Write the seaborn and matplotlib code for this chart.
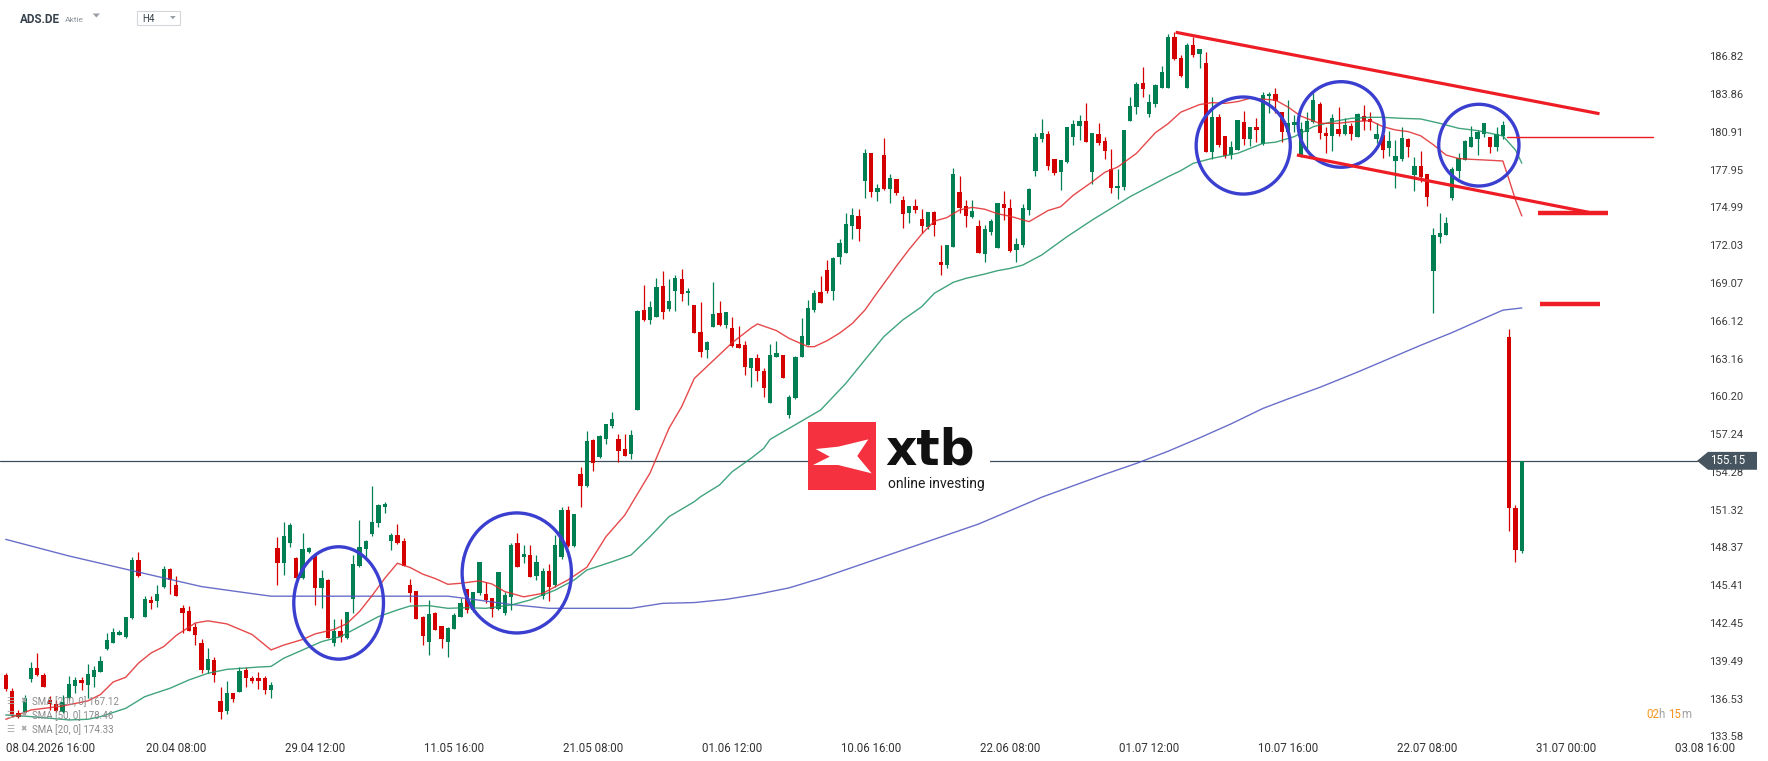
import numpy as np
import pandas as pd
import seaborn as sns
import matplotlib.pyplot as plt
from matplotlib import transforms
from matplotlib.patches import Ellipse, Polygon, Rectangle

W, H = 1768, 761

# candles (H4), index 0 = 08.04.2026 16:00
x = np.arange(-4, 237)
opens = [138.38, 137.15, 135.43, 135.38, 138.09, 138.90, 138.38, 136.42, 136.11, 135.51,
         136.55, 137.54, 137.99, 137.62, 138.25, 138.64, 140.39, 140.91, 141.54, 141.33,
         142.82, 147.38, 142.95, 144.25, 144.20, 145.30, 146.68, 145.43, 143.65, 143.39,
         142.16, 140.89, 138.77, 139.55, 136.34, 135.59, 136.94, 137.07, 138.77, 138.14,
         138.12, 138.16, 137.20, 148.36, 147.13, 148.74, 147.57, 146.00, 148.04, 147.78,
         145.17, 145.82, 140.86, 141.86, 141.25, 144.33, 146.91, 148.25, 149.42, 150.26,
         151.56, 148.87, 149.34, 148.87, 145.43, 144.96, 142.95, 140.99, 143.21, 142.22,
         140.99, 142.00, 142.95, 145.09, 143.47, 144.78, 144.73, 144.39, 143.52, 143.21,
         144.51, 148.69, 147.64, 147.78, 146.13, 144.57, 146.52, 145.43, 147.60, 151.30,
         148.48, 154.09, 153.18, 156.78, 155.42, 156.86, 157.88, 156.86, 156.08, 155.68,
         159.13, 166.96, 166.18, 166.44, 168.84, 167.01, 168.47, 169.39, 168.27, 167.35,
         165.26, 163.83, 165.66, 166.75, 165.79, 165.53, 164.27, 164.22, 162.39, 163.23,
         162.18, 159.70, 163.31, 163.44, 158.74, 160.10, 163.31, 164.22, 166.96, 168.35,
         170.09, 168.48, 171.14, 171.45, 173.54, 174.32, 177.06, 179.28, 176.23, 179.10,
         176.44, 177.19, 175.58, 174.53, 175.11, 174.06, 173.49, 174.61, 170.69, 170.49,
         171.92, 176.23, 175.11, 174.27, 173.54, 171.32, 173.10, 171.79, 175.26, 174.92,
         171.66, 172.05, 174.79, 177.87, 180.35, 180.74, 178.76, 177.79, 178.58, 180.53,
         181.40, 181.76, 177.79, 180.74, 180.19, 177.98, 176.49, 176.57, 181.79, 182.83,
         184.76, 182.28, 183.09, 184.32, 184.32, 188.31, 186.67, 184.32, 187.71, 186.98,
         186.28, 179.36, 182.10, 180.58, 179.10, 179.49, 181.66, 180.35, 181.27, 179.96,
         183.72, 183.88, 182.49, 180.93, 181.45, 179.10, 180.93, 181.71, 183.09, 180.85,
         180.59, 181.11, 180.75, 181.37, 180.54, 182.18, 181.89, 180.35, 180.67, 179.62,
         178.66, 178.76, 180.33, 177.53, 178.24, 177.61, 170.04, 172.71, 172.84, 175.71,
         177.87, 178.71, 179.75, 180.33, 180.75, 180.48, 179.70, 180.59, 164.87, 151.43,
         148.12]
highs = [138.56, 137.33, 135.60, 136.81, 139.42, 140.13, 138.56, 136.74, 136.42, 136.81,
         138.30, 138.25, 138.25, 139.27, 139.08, 139.89, 141.64, 142.03, 141.93, 142.95,
         147.59, 148.04, 144.57, 144.57, 145.43, 146.92, 146.78, 146.13, 143.86, 143.78,
         142.43, 141.17, 140.52, 139.82, 137.41, 137.88, 136.94, 138.98, 138.98, 138.30,
         138.64, 138.30, 137.80, 149.21, 150.36, 150.26, 147.65, 149.47, 148.40, 147.78,
         146.60, 145.87, 142.74, 142.74, 143.29, 147.78, 150.52, 148.95, 153.18, 151.77,
         151.95, 149.52, 150.21, 149.08, 145.87, 144.96, 143.00, 144.25, 143.34, 142.22,
         142.12, 143.21, 144.39, 145.09, 144.91, 147.20, 145.69, 144.39, 146.47, 144.91,
         148.69, 149.47, 148.56, 148.56, 147.78, 146.73, 147.07, 149.34, 151.56, 151.61,
         150.96, 154.64, 157.49, 156.86, 157.15, 158.03, 158.97, 157.25, 157.25, 157.56,
         166.96, 168.92, 167.69, 169.44, 170.02, 169.36, 169.70, 170.17, 168.66, 167.35,
         167.56, 164.56, 169.13, 167.69, 166.80, 166.44, 165.71, 164.53, 163.18, 163.51,
         162.39, 164.30, 164.56, 163.44, 160.30, 163.36, 166.31, 167.74, 168.53, 169.62,
         170.88, 171.14, 172.52, 174.53, 174.92, 174.84, 179.54, 179.28, 176.83, 180.40,
         177.61, 177.19, 175.89, 175.11, 175.63, 174.84, 174.66, 174.71, 172.05, 172.03,
         178.06, 177.45, 175.58, 175.58, 174.01, 173.62, 174.09, 175.32, 176.28, 175.63,
         172.57, 175.26, 176.49, 180.79, 181.92, 180.98, 178.76, 178.71, 181.27, 181.84,
         182.23, 183.20, 180.79, 181.63, 180.53, 179.54, 177.98, 181.06, 183.61, 184.84,
         186.02, 183.87, 184.66, 186.07, 188.57, 188.76, 186.93, 187.89, 188.31, 187.37,
         187.14, 183.61, 182.31, 180.58, 180.22, 181.84, 182.57, 181.27, 181.97, 184.06,
         184.06, 184.32, 182.49, 183.41, 182.23, 181.71, 182.49, 183.93, 183.28, 181.32,
         182.31, 182.83, 181.97, 181.63, 182.36, 183.02, 182.49, 181.58, 180.67, 181.01,
         180.28, 181.27, 180.41, 178.97, 179.44, 177.61, 173.36, 174.58, 174.22, 178.14,
         179.23, 180.28, 181.37, 181.06, 181.63, 180.48, 181.32, 181.76, 165.45, 151.69,
         155.15]
lows = [137.15, 135.12, 135.00, 135.30, 137.81, 138.33, 137.41, 135.64, 135.51, 135.38,
        136.42, 136.94, 137.21, 136.55, 137.41, 138.64, 140.34, 140.86, 141.49, 141.28,
        142.74, 146.08, 142.95, 143.57, 143.73, 145.22, 144.72, 144.57, 141.70, 141.85,
        140.73, 138.56, 138.56, 137.81, 134.91, 135.30, 136.24, 137.07, 137.41, 137.73,
        137.26, 136.90, 136.60, 145.43, 146.21, 148.43, 145.95, 145.87, 147.90, 143.86,
        143.60, 141.25, 140.68, 141.00, 141.20, 143.21, 146.81, 147.65, 149.26, 149.95,
        151.10, 148.17, 148.64, 146.94, 144.12, 142.74, 140.73, 139.95, 141.91, 140.47,
        139.82, 142.00, 142.90, 143.26, 143.34, 144.65, 144.04, 142.90, 143.47, 143.08,
        143.47, 146.86, 147.12, 146.08, 145.82, 144.30, 144.20, 145.30, 147.50, 148.43,
        148.43, 151.56, 153.13, 154.38, 155.35, 156.47, 157.70, 155.08, 155.55, 155.29,
        159.13, 166.10, 165.86, 166.44, 166.26, 166.88, 166.91, 167.69, 167.35, 165.13,
        163.31, 163.18, 165.66, 165.71, 165.53, 164.09, 164.01, 161.87, 160.96, 161.43,
        160.17, 159.70, 163.26, 161.61, 158.48, 159.97, 163.26, 164.22, 166.83, 167.48,
        168.27, 167.74, 170.54, 171.45, 172.49, 172.39, 175.76, 175.84, 175.52, 176.36,
        175.31, 175.97, 173.36, 173.80, 174.58, 172.97, 173.28, 172.76, 169.70, 170.22,
        171.87, 174.58, 173.49, 174.19, 171.40, 170.75, 172.84, 171.79, 174.01, 171.53,
        170.74, 171.92, 174.40, 177.45, 180.14, 177.92, 177.53, 176.36, 178.50, 179.88,
        180.27, 180.14, 176.80, 179.88, 178.76, 176.15, 175.63, 176.36, 181.79, 182.31,
        183.61, 182.10, 182.83, 184.32, 184.32, 186.54, 185.23, 184.32, 186.80, 185.94,
        179.36, 178.76, 179.75, 178.84, 178.76, 179.49, 179.88, 179.80, 180.14, 179.88,
        182.42, 182.42, 180.15, 180.67, 180.93, 178.97, 179.36, 181.58, 180.33, 179.28,
        179.44, 180.59, 180.67, 180.28, 180.49, 181.06, 181.06, 180.02, 178.84, 179.02,
        176.49, 178.66, 178.92, 176.31, 177.01, 175.11, 166.75, 172.24, 172.84, 175.58,
        177.27, 178.71, 179.70, 179.10, 180.54, 179.28, 179.44, 180.33, 149.68, 147.26,
        147.96]
closes = [137.26, 135.25, 135.12, 136.55, 138.90, 138.38, 137.41, 136.11, 135.59, 136.29,
          137.67, 137.99, 137.78, 138.46, 138.77, 139.48, 141.12, 141.75, 141.75, 142.95,
          147.38, 146.13, 144.33, 144.04, 144.72, 146.68, 145.82, 144.57, 143.26, 141.85,
          141.54, 138.77, 139.63, 138.38, 135.51, 136.94, 136.50, 138.69, 138.12, 137.88,
          137.94, 137.20, 137.60, 147.18, 149.26, 150.13, 146.00, 148.22, 148.30, 145.22,
          145.95, 141.25, 141.86, 141.33, 143.29, 147.08, 148.38, 148.87, 150.34, 151.69,
          151.77, 149.34, 148.69, 146.94, 144.78, 142.74, 141.46, 143.13, 141.91, 141.20,
          142.04, 143.08, 143.99, 143.47, 144.91, 147.20, 144.25, 143.52, 146.42, 144.65,
          148.56, 146.86, 147.85, 146.08, 147.25, 146.55, 145.30, 148.56, 151.30, 148.48,
          150.96, 153.18, 156.70, 155.00, 157.10, 158.03, 158.43, 155.95, 155.55, 157.15,
          166.88, 166.18, 167.17, 168.79, 166.83, 167.69, 169.44, 168.19, 168.45, 165.13,
          163.70, 164.43, 166.65, 165.79, 166.80, 164.17, 164.01, 162.52, 163.18, 162.21,
          160.88, 163.44, 163.57, 161.66, 160.18, 163.31, 164.93, 167.09, 168.32, 167.48,
          168.48, 171.06, 172.18, 173.70, 174.40, 173.30, 179.28, 176.23, 176.52, 176.44,
          177.27, 176.10, 174.45, 175.11, 174.79, 173.54, 174.61, 173.62, 170.49, 172.03,
          177.61, 174.97, 174.32, 174.74, 171.40, 173.30, 173.93, 175.32, 174.92, 171.61,
          172.13, 174.92, 176.41, 180.48, 180.79, 178.26, 177.71, 178.71, 181.27, 181.53,
          181.76, 180.14, 180.79, 180.06, 179.44, 176.49, 176.67, 181.06, 182.94, 184.63,
          184.24, 183.27, 184.58, 185.62, 188.37, 186.59, 185.28, 187.71, 186.93, 187.37,
          179.36, 182.10, 179.88, 179.02, 179.75, 181.84, 180.35, 181.27, 181.06, 183.80,
          183.88, 183.35, 180.93, 181.58, 181.71, 181.11, 181.76, 183.41, 180.80, 180.59,
          181.97, 180.75, 181.45, 180.75, 182.31, 181.79, 181.71, 180.75, 179.49, 180.22,
          179.02, 180.41, 179.70, 178.24, 177.40, 175.79, 172.84, 173.02, 173.75, 177.98,
          178.84, 180.22, 180.48, 180.93, 181.58, 179.70, 180.75, 181.45, 151.43, 148.17,
          155.15]

# moving averages
sma20_x = [-4, 0, 5, 9, 11, 13, 15, 17, 19, 21, 23, 26, 28, 31, 35, 38, 40, 43, 45, 48, 50,
           52, 54, 56, 58, 60, 62, 64, 66, 68, 71, 73, 75, 78, 81, 85, 88, 91, 94, 98, 101,
           103, 105, 108, 111, 114, 115, 118, 120, 123, 124, 126, 128, 130, 132, 134, 136,
           137, 139, 141, 143, 145, 147, 149, 151, 153, 155, 158, 161, 163, 165, 168, 170,
           172, 175, 178, 180, 182, 185, 187, 189, 191, 193, 197, 199, 201, 204, 207, 209,
           212, 214, 216, 218, 220, 222, 224, 226, 228, 230, 233, 234, 235, 236]
sma20_y = [134.91, 135.64, 135.95, 136.35, 136.85, 137.83, 138.20, 139.30, 140.10, 140.60,
           141.48, 142.45, 142.62, 142.38, 141.55, 140.34, 140.72, 141.16, 141.60, 141.95,
           142.40, 143.35, 144.60, 145.95, 147.13, 146.80, 146.28, 145.93, 145.48, 145.56,
           145.75, 145.50, 144.91, 144.50, 144.77, 145.82, 146.82, 149.20, 150.90, 154.20,
           157.70, 159.39, 161.60, 163.00, 164.40, 165.55, 165.87, 165.35, 164.74, 164.09,
           164.09, 164.55, 165.15, 165.90, 166.95, 168.35, 169.70, 170.40, 171.70, 172.90,
           173.92, 174.20, 174.80, 175.00, 174.85, 174.50, 174.30, 173.88, 174.75, 175.05,
           175.95, 177.00, 177.75, 178.15, 179.23, 180.85, 181.55, 182.45, 183.05, 183.20,
           183.14, 183.28, 183.54, 183.40, 182.85, 182.15, 181.58, 181.58, 181.70, 181.79,
           181.32, 181.06, 180.93, 180.60, 179.90, 179.10, 178.82, 178.76, 178.71, 178.63,
           177.14, 175.58, 174.33]
sma50_x = [-4, 0, 6, 9, 11, 15, 18, 22, 25, 28, 31, 36, 38, 40, 43, 46, 49, 51, 53, 55, 58,
           60, 63, 66, 69, 72, 76, 79, 83, 86, 88, 92, 95, 98, 101, 105, 106, 109, 111, 114,
           116, 117, 120, 125, 129, 132, 135, 138, 141, 143, 146, 148, 151, 153, 155, 157,
           160, 164, 168, 171, 174, 177, 180, 182, 184, 187, 191, 195, 197, 200, 203, 206,
           209, 212, 214, 217, 220, 223, 226, 229, 233, 235, 236]
sma50_y = [135.25, 135.12, 134.86, 134.91, 135.12, 135.77, 136.68, 137.34, 137.99, 138.51,
           138.82, 139.00, 139.05, 139.69, 140.34, 140.99, 141.38, 141.91, 142.43, 142.95,
           143.47, 143.78, 143.81, 143.60, 143.65, 143.60, 143.86, 144.25, 145.03, 145.82,
           146.60, 147.25, 147.78, 149.21, 150.78, 151.95, 152.34, 153.26, 154.30, 155.35,
           156.13, 156.83, 157.69, 159.13, 161.22, 163.05, 164.87, 166.18, 167.22, 168.27,
           169.13, 169.44, 169.78, 170.04, 170.22, 170.48, 171.27, 172.70, 174.01, 174.92,
           175.84, 176.62, 177.40, 177.87, 178.45, 178.84, 179.23, 180.01, 180.10, 180.54,
           181.32, 181.71, 181.97, 182.05, 182.05, 181.97, 181.92, 181.58, 181.19, 181.01,
           180.59, 179.49, 178.46]
sma200_x = [-4, 6, 16, 27, 35, 38, 50, 66, 70, 76, 82, 95, 100, 105, 110, 115, 120, 125,
            130, 135, 140, 145, 150, 155, 160, 165, 170, 175, 180, 185, 190, 195, 199, 204,
            210, 215, 220, 225, 230, 233, 236]
sma200_y = [149.00, 147.70, 146.55, 145.30, 144.75, 144.55, 144.55, 144.55, 144.30, 143.90,
            143.60, 143.60, 143.99, 144.05, 144.30, 144.70, 145.20, 145.95, 146.80, 147.65,
            148.50, 149.35, 150.20, 151.25, 152.30, 153.20, 154.10, 154.95, 155.90, 156.95,
            158.05, 159.25, 160.00, 160.90, 162.10, 163.15, 164.20, 165.20, 166.30, 166.95,
            167.12]

# drawings on the chart
circ_x = [48.7, 76.9, 191.9, 207.4, 229.2]
circ_y = [144.02, 146.37, 179.84, 181.49, 179.87]
circ_w = [14.2, 17.3, 14.9, 13.6, 12.7]
circ_h = [8.8, 9.4, 7.6, 6.7, 6.4]
trend_upper_x, trend_upper_y = [181.2, 248.3], [188.71, 182.33]
trend_lower_x, trend_lower_y = [200.4, 246.6], [179.10, 174.61]
level_thin = 180.53
level_thin_x = [233.7, 256.8]
levels_thick = [174.55, 167.40]
levels_thick_x = [[238.5, 249.6], [238.9, 248.4]]
last_price = 155.15

ytick_vals = [186.82, 183.86, 180.91, 177.95, 174.99, 172.03, 169.07, 166.12, 163.16, 160.20,
              157.24, 154.28, 151.32, 148.37, 145.41, 142.45, 139.49, 136.53, 133.58]
xtick_pos = [1 + 22 * k for k in range(13)]
xtick_labels = ['08.04.2026 16:00', '20.04 08:00', '29.04 12:00', '11.05 16:00', '21.05 08:00',
                '01.06 12:00', '10.06 16:00', '22.06 08:00', '01.07 12:00', '10.07 16:00',
                '22.07 08:00', '31.07 00:00', '03.08 16:00']
sma_legend = ['SMA [200, 0] 167.12', 'SMA [50, 0] 178.46', 'SMA [20, 0] 174.33']

GREEN, RED = '#008052', '#d40000'

sns.set_theme(style='white')
plt.rcParams['font.family'] = ['Roboto', 'DejaVu Sans']

fig = plt.figure(figsize=(W / 100, H / 100), dpi=100)
ax = fig.add_axes([0, 1 - 740 / H, 1, 740 / H])
for s in ax.spines.values():
    s.set_visible(False)

o, h, l, c = map(np.array, (opens, highs, lows, closes))
colors = np.where(c >= o, GREEN, RED)
ax.vlines(x, l, h, colors=colors, lw=0.9, zorder=2)
ax.bar(x, np.maximum(np.abs(c - o), 0.08), bottom=np.minimum(o, c), width=0.68,
       color=colors, linewidth=0, zorder=2)

for xs, ys, col in [(sma200_x, sma200_y, '#4f55c0'), (sma50_x, sma50_y, '#1f9466'),
                    (sma20_x, sma20_y, '#e2292b')]:
    sns.lineplot(x=xs, y=ys, ax=ax, color=col, lw=1.0, alpha=0.85, zorder=3,
                 legend=False, estimator=None)

for cx, cy, cw, ch in zip(circ_x, circ_y, circ_w, circ_h):
    ax.add_patch(Ellipse((cx, cy), cw, ch, fill=False, ec='#3b3fd0', lw=2.4, zorder=5))

ax.plot(trend_upper_x, trend_upper_y, color='#ee1d25', lw=2.3, zorder=5, solid_capstyle='butt')
ax.plot(trend_lower_x, trend_lower_y, color='#ee1d25', lw=2.3, zorder=5, solid_capstyle='butt')
ax.plot(level_thin_x, [level_thin] * 2, color='#ee1d25', lw=1.0, zorder=5)
for lv, lx in zip(levels_thick, levels_thick_x):
    ax.plot(lx, [lv, lv], color='#ee1d25', lw=3.2, zorder=5, solid_capstyle='butt')

# last price line + tag
ax.axhline(last_price, xmax=1697 / W, color='#3e4d5a', lw=0.9, zorder=1)
tr = transforms.blended_transform_factory(ax.transAxes, ax.transData)
hh = 0.7
ax.add_patch(Polygon([(1697 / W, last_price), (1708 / W, last_price + hh), (1757 / W, last_price + hh),
                      (1757 / W, last_price - hh), (1708 / W, last_price - hh)],
                     closed=True, transform=tr, fc='#46555f', ec='none', zorder=6, clip_on=False))
ax.text(1710 / W, last_price, '155.15', transform=tr, color='white', fontsize=8.3,
        va='center', ha='left', zorder=7)

ax.set_xlim(-31 / 6.317, (W - 31) / 6.317)
ax.set_ylim(186.82 - (740 - 56.4) / 12.77, 186.82 + 56.4 / 12.77)
ax.set_xlabel('')
ax.set_ylabel('')

ax.yaxis.tick_right()
ax.set_yticks(ytick_vals, [f'{v:.2f}' for v in ytick_vals])
ax.tick_params(axis='y', length=0, pad=-42.5, labelsize=8, labelcolor='#3d3d3d')
ax.set_xticks(xtick_pos, xtick_labels)
ax.tick_params(axis='x', length=0, pad=1.5, labelsize=8.3, labelcolor='#333333')
first = ax.get_xticklabels()[0]
first.set_ha('left')
first.set_transform(first.get_transform() +
                    transforms.ScaledTranslation(-31 / 100, 0, fig.dpi_scale_trans))


def fp(px, py):
    return (px / W, 1 - py / H)


# header
fig.text(*fp(20, 19.5), 'ADS.DE', fontsize=8.4, fontweight='bold', color='#37424c', va='center')
fig.text(*fp(65, 19.5), 'Aktie', fontsize=6, color='#8d949a', va='center')
fig.add_artist(Polygon([fp(92.7, 13.5), fp(100, 13.5), fp(96.35, 17.5)],
                       transform=fig.transFigure, fc='#9aa0a6', ec='none'))
fig.add_artist(Rectangle(fp(137.3, 25.3), 42.7 / W, 14.6 / H, transform=fig.transFigure,
                         fill=False, ec='#d3d7db', lw=0.8))
fig.text(*fp(142.7, 19.3), 'H4', fontsize=7, color='#37424c', va='center')
fig.add_artist(Polygon([fp(170, 16), fp(175.7, 16), fp(172.85, 19.3)],
                       transform=fig.transFigure, fc='#9aa0a6', ec='none'))

# indicator legend
for i, txt in enumerate(sma_legend):
    yy = 701.7 + 13.8 * i
    fig.text(*fp(6, yy), '\u2630', fontsize=6.5, color='#a8a8a8', va='center')
    fig.text(*fp(20, yy), '\u2716', fontsize=5.5, color='#a8a8a8', va='center')
    fig.text(*fp(31.7, yy), txt, fontsize=7, color='#8a8a8a', va='center')

# candle countdown
renderer = fig.canvas.get_renderer()
cx0 = 1646 / W
for s, col in [('02', '#f7941d'), ('h ', '#a0a0a0'), ('15', '#f7941d'), ('m', '#a0a0a0')]:
    t = fig.text(cx0, 1 - 715 / H, s, fontsize=8.3, color=col, va='center')
    cx0 += t.get_window_extent(renderer=renderer).width / W

# logo
lax = fig.add_axes([808 / W, 1 - 490 / H, 182 / W, 68.3 / H])
lax.set_xlim(0, 1)
lax.set_ylim(0, 1)
lax.set_xticks([])
lax.set_yticks([])
for s in lax.spines.values():
    s.set_visible(False)
lax.set_facecolor('white')
lax.add_patch(Rectangle((0, 0), 0.3736, 1, fc='#f5313f', ec='none'))
xs_logo = np.array([0.113, 0.443, 0.887, 0.724, 0.936, 0.443, 0.074, 0.320]) * 0.3736
ys_logo = [0.600, 0.634, 0.741, 0.498, 0.244, 0.366, 0.366, 0.488]
lax.add_patch(Polygon(list(zip(xs_logo, ys_logo)), closed=True, fc='white', ec='none'))
lax.text(0.425, 0.37, 'xtb', fontsize=35, fontweight='bold', family='DejaVu Sans',
         ha='left', va='baseline', color='#111111')
lax.text(0.44, 0.03, 'online investing', fontsize=10, color='#1a1a1a', ha='left',
         va='baseline')

fig.savefig('out.png', dpi=100)
